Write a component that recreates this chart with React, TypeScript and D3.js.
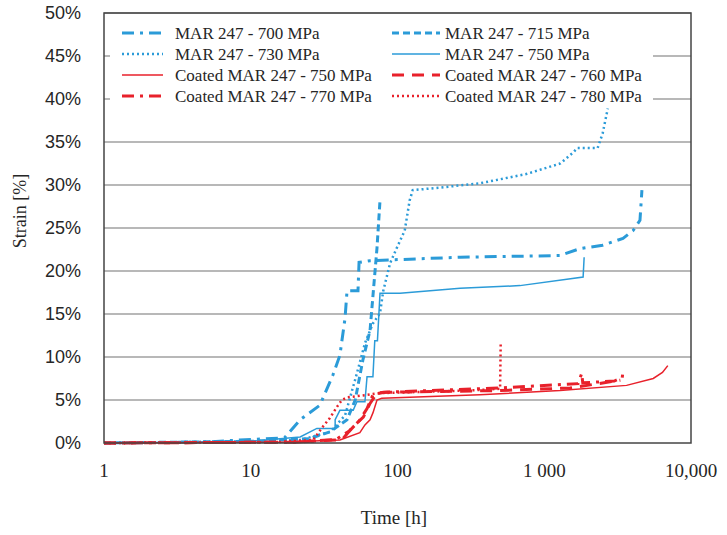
import React from "react";
import * as d3 from "d3";

// [time h, strain %]
const mar700 = [[1,0],[5,0.1],[8.4,0.35],[17,0.6],[21.7,2.7],[29.6,4.4],[36.3,7.9],[40.5,10.2],[43.9,14.5],[45.3,17.7],[53.8,17.7],[54.7,21.0],[65,21.2],[267,21.6],[1280,21.8],[1750,22.6],[2500,23.0],[3440,23.8],[4030,24.7],[4490,25.9],[4630,29.4]];
const mar715 = [[1,0],[10,0.2],[25,0.5],[34.7,1.3],[45.3,2.7],[51.5,5.0],[58,9.6],[65,13.1],[72.5,22.7],[76,28.2]];
const mar730 = [[1,0],[10,0.2],[21.7,0.35],[34.7,1.3],[43.9,3.2],[52.9,8.1],[60,11.6],[68,13.9],[76,15.1],[80,17.7],[89,20.9],[99,22.7],[112,24.7],[121,28.2],[127,29.4],[195,29.7],[364,30.2],[448,30.5],[765,31.3],[1285,32.5],[1580,33.8],[1680,34.3],[2310,34.3],[2500,36.0],[2710,38.9]];
const mar750 = [[1,0],[10,0.2],[21.7,0.7],[28.2,1.7],[37.6,1.7],[37.6,2.7],[40.5,3.8],[49.9,3.8],[52.9,4.8],[60,4.8],[62,7.7],[68,7.7],[70,11.9],[73,11.9],[76,17.4],[104,17.4],[267,18.0],[683,18.3],[1840,19.3],[1870,21.6]];
const coated750 = [[1,0],[15.9,0.1],[40.5,0.35],[55.4,1.2],[60,2.1],[65,2.7],[68,3.5],[72.5,5.0],[78,5.2],[364,5.6],[1280,6.1],[3640,6.7],[5530,7.5],[6390,8.2],[6950,9.0]];
const coated760 = [[1,0],[20,0.1],[42,0.4],[49.8,1.9],[58.5,3.0],[65,4.6],[72.5,5.8],[85,5.9],[500,6.1],[1500,6.4],[3300,7.3]];
const coated770 = [[1,0],[20,0.1],[38,0.4],[47,1.4],[55,2.6],[62,4.0],[68,5.6],[80,5.9],[500,6.4],[1700,6.9],[1800,8.1],[1830,7.0],[3000,7.2],[3400,7.6],[3450,8.6]];
const coated780 = [[1,0],[15,0.1],[26.6,0.35],[31,1.9],[34.6,2.9],[38.7,4.2],[41.8,5.0],[45.3,5.3],[62,5.6],[76,5.8],[300,6.1],[500,6.3],[505,11.7]];

const xTicks = [1, 10, 100, 1000, 10000];
const xTickLabels = ["1", "10", "100", "1 000", "10,000"];
const yTicks = [0, 5, 10, 15, 20, 25, 30, 35, 40, 45, 50];

const blue = "#2b9bd8";
const red = "#e8212b";

const series = [
  { name: "MAR 247 - 700 MPa", data: mar700, color: blue, dash: "12 6 3 6", w: 3 },
  { name: "MAR 247 - 715 MPa", data: mar715, color: blue, dash: "7 4", w: 3 },
  { name: "MAR 247 - 730 MPa", data: mar730, color: blue, dash: "2 3", w: 2.5 },
  { name: "MAR 247 - 750 MPa", data: mar750, color: blue, dash: null, w: 1.5 },
  { name: "Coated MAR 247 - 750 MPa", data: coated750, color: red, dash: null, w: 1.5 },
  { name: "Coated MAR 247 - 760 MPa", data: coated760, color: red, dash: "12 8", w: 3 },
  { name: "Coated MAR 247 - 770 MPa", data: coated770, color: red, dash: "12 6 3 6", w: 3 },
  { name: "Coated MAR 247 - 780 MPa", data: coated780, color: red, dash: "2 3", w: 2.5 },
];

const serif = "'Liberation Serif', serif";
const ink = "#262626";

export default function App() {
  const width = 727;
  const height = 535;
  const left = 104, right = 691, top = 13, bottom = 443;

  const x = d3.scaleLog().domain([1, 10000]).range([left, right]);
  const y = d3.scaleLinear().domain([0, 50]).range([bottom, top]);

  const line = d3.line<number[]>()
    .x((d) => x(d[0]))
    .y((d) => y(d[1]));

  const rowY = [33, 54, 75, 96];

  return (
    <svg width={width} height={height} style={{ position: "absolute", left: 0, top: 0, background: "#fff" }}>
      {yTicks.filter((t) => t > 0).map((t) => (
        <line key={t} x1={left} x2={right} y1={y(t)} y2={y(t)} stroke="#a0a0a0" strokeWidth={1.5} />
      ))}
      <rect x={110} y={16} width={543} height={92} fill="#fff" />

      {series.map((s) => (
        <path key={s.name} d={line(s.data) || ""} fill="none" stroke={s.color}
          strokeWidth={s.w} strokeDasharray={s.dash || undefined} />
      ))}

      <rect x={left} y={top} width={right - left} height={bottom - top} fill="none" stroke="#444" strokeWidth={1.5} />

      {series.map((s, i) => {
        const col = i % 2;
        const row = Math.floor(i / 2);
        const x1 = col === 0 ? 122 : 392;
        const x2 = col === 0 ? 163 : 440;
        const tx = col === 0 ? 175 : 445;
        return (
          <g key={"lg" + i}>
            <line x1={x1} x2={x2} y1={rowY[row]} y2={rowY[row]} stroke={s.color}
              strokeWidth={s.w} strokeDasharray={s.dash || undefined} />
            <text x={tx} y={rowY[row]} dy="0.35em" fontFamily={serif} fontSize={17} fill={ink}>{s.name}</text>
          </g>
        );
      })}

      {yTicks.map((t) => (
        <text key={"yt" + t} x={81} y={y(t)} dy="0.35em" textAnchor="end"
          fontFamily="'Liberation Sans', sans-serif" fontSize={18} fill={ink}>{t}%</text>
      ))}
      {xTicks.map((t, i) => (
        <text key={"xt" + t} x={x(t)} y={470} dy="0.35em" textAnchor="middle"
          fontFamily={serif} fontSize={19} fill={ink}>{xTickLabels[i]}</text>
      ))}

      <text x={394} y={517} dy="0.35em" textAnchor="middle" fontFamily={serif} fontSize={19} fill={ink}>Time [h]</text>
      <text transform="translate(20,211) rotate(-90)" dy="0.35em" textAnchor="middle" fontFamily={serif} fontSize={18} fill={ink}>Strain [%]</text>
    </svg>
  );
}
